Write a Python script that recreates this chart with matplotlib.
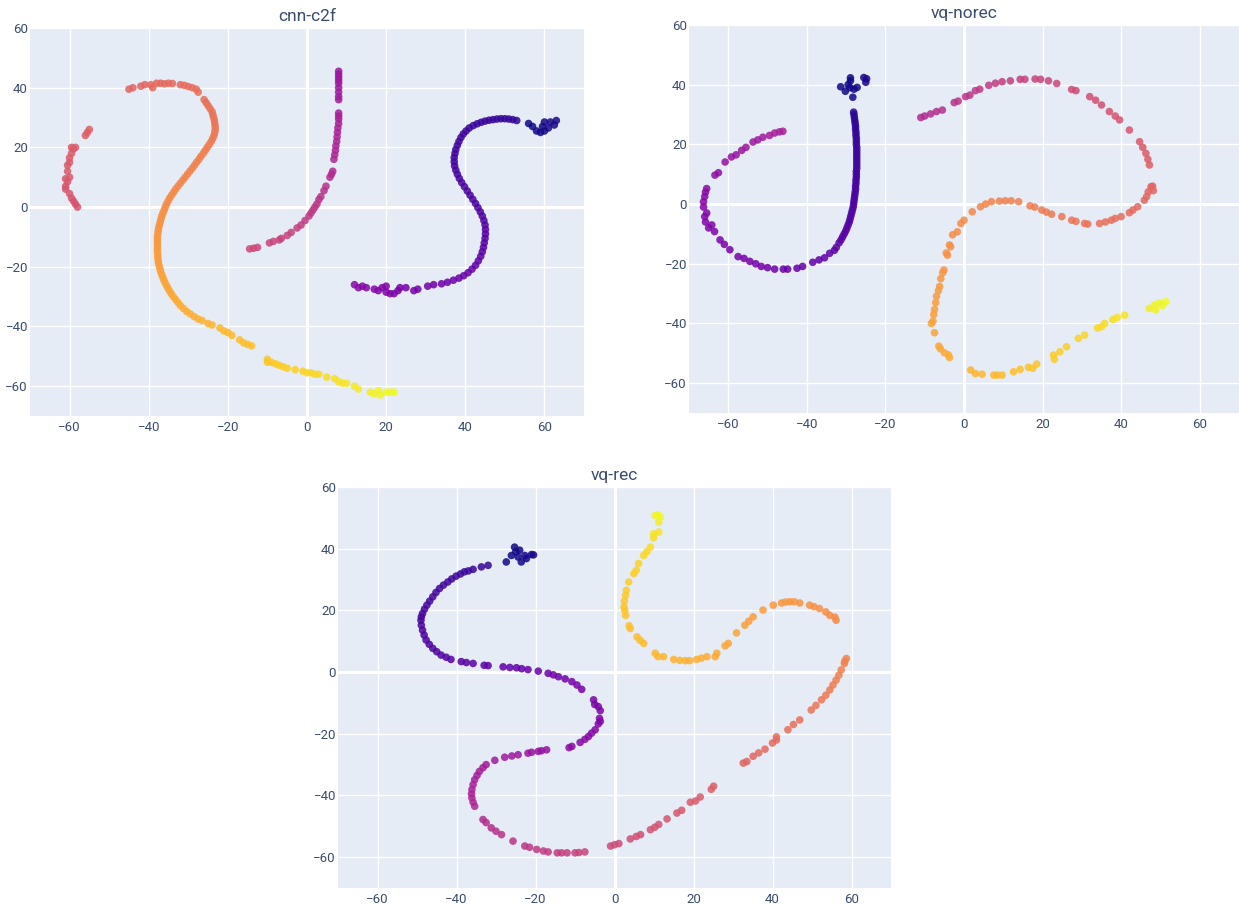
import matplotlib
matplotlib.use("Agg")
import matplotlib.pyplot as plt
import numpy as np

plt.rcParams['font.family'] = ['Roboto', 'DejaVu Sans']

# ---------------- cnn-c2f ----------------
cnn_x = [
    56, 57, 58, 59, 59.5, 60, 61, 61.5, 62.5, 63, 60,
    53, 52, 51, 50, 49, 48, 47, 46, 45, 44,
    43, 42, 41, 40.2, 39.5, 38.9, 38.4, 38, 37.6, 37.4,
    37.2, 37.2, 37.3, 37.6, 38, 38.5, 39.1, 39.8, 40.5, 41.2,
    41.9, 42.6, 43.2, 43.8, 44.3, 44.7, 45, 45.1, 45.1, 45,
    44.8, 44.6, 44.3, 43.9, 43.3, 42.6, 41.7, 40.7, 39.6, 38.4,
    37, 35.5, 34, 32, 30.5, 28, 27, 25, 23.5, 23,
    22, 21, 20, 20, 19, 18, 17, 15, 14, 13, 12,
    8, 8, 8, 8, 8, 8, 8, 8, 8, 8,
    8, 8, 8, 7.8, 7.7, 7.6, 7.5, 7.3, 7.2, 7,
    6.8, 6.5, 6.2, 5.8, 4.8, 4.3, 3.5, 3, 2.5, 2,
    1.5, 1, 0.5, -0.5, -1.5, -2.5, -4, -5, -6.5, -7,
    -8.5, -9.5, -12.5, -13.5, -14.5,
    -58, -58.5, -59, -59.5, -60, -61, -61, -60.5, -61, -60,
    -60.5, -60.5, -60, -60, -59.5, -59, -59.5, -58.5, -56, -55.5, -55,
    -45, -44, -42, -41, -39.5, -39, -38, -37, -36, -35,
    -34, -32, -31, -30, -29, -28, -27.5, -26, -25.5, -25,
    -24.5, -24, -23.8, -23.6, -23.4, -23.3, -23.2, -23.2, -23.3, -23.5,
    -23.8, -24.2, -24.7, -25.2, -25.7, -26.2, -26.8, -27.3, -27.9, -28.4,
    -29, -29.6, -30.2, -30.8, -31.4, -32, -32.6, -33.2, -33.7, -34.2,
    -34.7, -35.1, -35.5, -35.8, -36.1, -36.4, -36.7, -36.9, -37.1, -37.3,
    -37.5, -37.6, -37.7, -37.8, -37.8, -37.8, -37.8, -37.8, -37.8, -37.7,
    -37.7, -37.6, -37.5, -37.3, -37.1, -36.9, -36.6, -36.3, -36, -35.6,
    -35.2, -34.8, -34.3, -33.8, -33.2, -32.6, -32, -31.2, -30.4, -29.5,
    -28.5, -27.5, -26.5, -25, -24, -22, -21, -20, -19, -17,
    -16, -15, -14,
    -10, -10, -9, -8, -7, -6, -5, -3, -1, 0,
    1, 2, 3, 5, 7, 8, 9, 10, 12, 13,
    16, 17, 18, 18.5, 20, 21, 22,
]
cnn_y = [
    28, 27, 25.5, 25, 27, 28.5, 26.5, 28.5, 27.5, 29, 25.5,
    29, 29.3, 29.5, 29.6, 29.6, 29.5, 29.3, 29.1, 28.8, 28.4,
    27.9, 27.3, 26.5, 25.5, 24.5, 23.3, 22, 20.7, 19.3, 18,
    16.6, 15.2, 13.8, 12.4, 11, 9.6, 8.2, 6.8, 5.4, 4,
    2.6, 1.2, -0.2, -1.6, -3, -4.5, -6, -7.5, -9, -10.5,
    -12, -13.5, -15, -16.5, -18, -19.5, -20.8, -22, -23, -23.8,
    -24.5, -25.2, -25.7, -26, -26.5, -27.5, -28, -27, -27, -28,
    -29, -29, -28.5, -26.5, -27, -28, -27.5, -27, -26.5, -27, -26,
    45.5, 44.5, 43.5, 42.5, 41.5, 40, 38.5, 37, 36, 31.5,
    30.5, 29.5, 28, 26.5, 25, 23.5, 22, 20.5, 19, 17.5,
    16, 12, 11, 10, 7, 5.5, 3.5, 2.5, 1, 0,
    -1, -2, -3, -4.5, -6, -7, -8.5, -9.5, -10.5, -11,
    -11.5, -12, -13.5, -13.8, -14,
    0, 1, 2, 3, 4.5, 6, 7, 8.5, 9.5, 10,
    12, 14, 15, 16.5, 18, 19.5, 20, 20, 24, 25, 26,
    39.5, 40, 40.5, 41, 41, 40, 41.5, 41.5, 41.3, 41.5,
    41.4, 41, 40.8, 40.4, 40, 39.5, 38.5, 36, 35, 34,
    33, 32, 31, 30, 29, 28, 27, 26, 25, 24,
    23, 22, 21, 20, 19, 18, 17, 16, 15, 14,
    13, 12, 11, 10, 9, 8, 7, 6, 5, 4,
    3, 2, 1, 0, -1, -2, -3, -4, -5, -6,
    -7, -8, -9, -10, -11, -12, -13, -14, -15, -16,
    -17, -18, -19, -20, -21, -22, -23, -24, -25, -26,
    -27, -28, -29, -30, -31, -32, -33, -34, -35, -35.8,
    -36.7, -37.5, -38, -39, -39.5, -40.5, -41.5, -42, -43, -44.5,
    -45.5, -46, -46.5,
    -51, -52, -52, -52.5, -53, -53.5, -54, -54.5, -55, -55.5,
    -55.5, -56, -56, -57, -57.5, -58.5, -59, -59, -60, -61,
    -62, -62.5, -61.5, -63, -62, -62, -62,
]
cnn_c = [
    0.00, 0.00, 0.01, 0.01, 0.01, 0.01, 0.02, 0.02, 0.02, 0.02, 0.01,
    0.06, 0.06, 0.065, 0.065, 0.07, 0.07, 0.07, 0.075, 0.075, 0.08,
    0.08, 0.08, 0.085, 0.085, 0.09, 0.09, 0.09, 0.095, 0.095, 0.10,
    0.10, 0.10, 0.105, 0.105, 0.11, 0.11, 0.115, 0.115, 0.12, 0.12,
    0.125, 0.125, 0.13, 0.13, 0.135, 0.14, 0.14, 0.145, 0.15, 0.15,
    0.155, 0.16, 0.16, 0.165, 0.17, 0.175, 0.18, 0.185, 0.19, 0.195,
    0.20, 0.205, 0.21, 0.215, 0.22, 0.225, 0.23, 0.235, 0.24, 0.24,
    0.245, 0.25, 0.25, 0.255, 0.26, 0.26, 0.265, 0.27, 0.27, 0.275, 0.28,
    0.33, 0.33, 0.335, 0.335, 0.34, 0.34, 0.345, 0.345, 0.35, 0.36,
    0.36, 0.365, 0.365, 0.37, 0.37, 0.375, 0.38, 0.38, 0.385, 0.39,
    0.39, 0.40, 0.405, 0.41, 0.42, 0.425, 0.43, 0.435, 0.44, 0.445,
    0.45, 0.45, 0.455, 0.46, 0.465, 0.47, 0.475, 0.48, 0.485, 0.485,
    0.49, 0.49, 0.50, 0.50, 0.505,
    0.54, 0.54, 0.54, 0.545, 0.545, 0.55, 0.55, 0.55, 0.555, 0.555,
    0.56, 0.56, 0.565, 0.565, 0.57, 0.57, 0.57, 0.575, 0.58, 0.58, 0.585,
    0.60, 0.60, 0.605, 0.605, 0.61, 0.61, 0.61, 0.615, 0.615, 0.62,
    0.62, 0.62, 0.625, 0.625, 0.63, 0.63, 0.635, 0.64, 0.64, 0.645,
    0.645, 0.65, 0.65, 0.655, 0.655, 0.66, 0.66, 0.665, 0.665, 0.67,
    0.67, 0.675, 0.675, 0.68, 0.68, 0.685, 0.685, 0.69, 0.69, 0.695,
    0.695, 0.70, 0.70, 0.705, 0.705, 0.71, 0.71, 0.715, 0.715, 0.72,
    0.72, 0.725, 0.725, 0.73, 0.73, 0.735, 0.735, 0.74, 0.74, 0.745,
    0.745, 0.75, 0.75, 0.755, 0.755, 0.76, 0.76, 0.765, 0.765, 0.77,
    0.77, 0.775, 0.775, 0.78, 0.78, 0.785, 0.785, 0.79, 0.79, 0.795,
    0.795, 0.80, 0.80, 0.805, 0.805, 0.81, 0.81, 0.815, 0.815, 0.82,
    0.82, 0.825, 0.83, 0.83, 0.835, 0.84, 0.845, 0.845, 0.85, 0.855,
    0.86, 0.86, 0.865,
    0.88, 0.88, 0.885, 0.89, 0.89, 0.895, 0.90, 0.905, 0.91, 0.915,
    0.92, 0.925, 0.925, 0.93, 0.94, 0.945, 0.95, 0.955, 0.96, 0.965,
    0.975, 0.98, 0.985, 0.99, 0.995, 1.0, 1.0,
]

# ---------------- vq-norec ----------------
norec_x = [
    -31.4, -30.2, -29.5, -28.9, -28.9, -28.3, -28, -27.2, -29, -25.5, -25, -24.8,
    -28.1, -28, -27.9, -27.8, -27.7, -27.6, -27.6, -27.5, -27.5, -27.4,
    -27.4, -27.4, -27.3, -27.3, -27.3, -27.3, -27.3, -27.3, -27.3, -27.3,
    -27.4, -27.4, -27.4, -27.5, -27.5, -27.6, -27.6, -27.7, -27.8, -27.9,
    -28, -28.1, -28.2, -28.4, -28.6, -28.8, -29, -29.2, -29.5, -29.8,
    -30.1, -30.5, -30.9, -31.3, -31.8, -32.5, -33, -34.2, -35.5, -36.9,
    -38.5, -41.1, -42.5, -44.9, -46, -48.2, -50, -51.6, -53, -54.5,
    -56, -57.5, -59.6, -61, -62.1, -63.5, -64.2, -65, -65.8, -66,
    -65.5, -66.3, -66.3, -66, -65.8, -65.5, -63.4, -62.5, -60.8, -59.2,
    -58, -56.6, -55.5, -53.7, -52.5, -51.2, -49.5, -48.2, -47, -46.1,
    -11, -10, -8.5, -7, -5.5, -2.5, -1.5, 0.4, 1.5, 2.9,
    4, 6.3, 8, 9.7, 11.8, 14.3, 15.5, 18.1, 19.5, 21.5,
    23.6, 27.4, 28.5, 32, 33.5, 35, 37, 38.5, 39.6, 42.1,
    44.7, 45.5, 46.3, 46.8, 47.2,
    48, 47.6, 48.2, 46.9, 46.5, 45.9, 44.2, 43, 42.1, 40,
    38.5, 37.5, 36, 34.5, 31.5, 30.7, 28.5, 27.4, 24.9, 22.3,
    21, 19.8, 18, 16.8, 13.9, 12, 10.5, 9, 7, 5.5,
    4.2, 2.1, 0, -0.8, -1.7, -2.9, -3.4, -3.7, -4.5, -4.2,
    -5.1, -5.4, -5.9, -6.2, -6.5, -7, -7.2, -7.5, -7.7, -7.9,
    -8.3, -7.5, -6.4, -6, -5, -4, -3.7,
    1.7, 2.9, 4.6, 7.6, 8.5, 9.7, 12.6, 14.3, 16.4, 17.5,
    18.5, 22.8, 23, 24.4, 26.1, 29.1, 30.7, 34, 35, 35.8,
    37.9, 39, 40.9, 47.2, 48.4, 48.8, 49.7, 50.5, 51.4,
]
norec_y = [
    39.3, 37.8, 40, 41.3, 42.3, 35.8, 38.5, 39.1, 39, 42.4, 40.8, 42,
    30.8, 30, 29, 28, 27, 26, 25, 24, 23, 22,
    21, 20, 19, 18, 17, 16, 15, 14, 13, 12,
    11, 10, 9, 8, 7, 6, 5, 4, 3, 2,
    1, 0, -1, -2, -3, -4, -5, -6, -7, -8,
    -9, -10, -11, -12, -13, -14.5, -15.5, -16.5, -18, -18.7,
    -19.5, -20.9, -21.5, -21.8, -21.8, -21.8, -21.3, -20.9, -20, -19.2,
    -18.2, -17.6, -15.3, -13.5, -12, -9.2, -7, -8, -6, -4.2,
    -3, -1, 0.8, 2.5, 4, 5.2, 9.7, 10.5, 14.1, 15.8,
    16.5, 18, 19, 20.8, 21.5, 22.4, 23, 23.8, 24.2, 24.4,
    29, 29.5, 30.2, 31, 31.5, 34, 34.5, 36, 36.5, 38,
    38.5, 39.8, 40.5, 41, 41.3, 41.8, 41.8, 41.9, 41.8, 41.3,
    40.4, 38.4, 38, 36, 34.8, 33.2, 31, 29.5, 28.2, 24.8,
    20.9, 19, 17, 15, 13.1,
    6, 5.8, 4.5, 4.1, 2.5, 1.3, -0.9, -2, -2.9, -4.2,
    -4.8, -5.4, -6, -6.5, -6.7, -6.5, -5.8, -5.4, -4.2, -3.4,
    -2.7, -2, -1, -0.6, 0.8, 1.1, 1.1, 1, 0.8, 0,
    -0.9, -2.6, -5.4, -6.5, -9.3, -10.3, -14.3, -13.7, -16.4, -17.1,
    -22.1, -23, -25, -27.6, -29, -30.9, -33, -35.3, -37, -39.2,
    -40, -43.1, -47.6, -48.5, -49.8, -50.5, -51.4,
    -55.6, -56.8, -57, -57.3, -57.3, -57.3, -56.2, -55.4, -54.7, -55,
    -53.6, -50.6, -52, -49.5, -47.8, -45, -43.9, -41.5, -41.1, -40,
    -38.7, -38, -37.2, -35, -33.9, -35.5, -33.1, -34, -32.7,
]
norec_c = [
    0.0, 0.0, 0.0, 0.005, 0.005, 0.01, 0.01, 0.01, 0.01, 0.02, 0.02, 0.02,
    0.05, 0.05, 0.055, 0.055, 0.06, 0.06, 0.065, 0.065, 0.07, 0.07,
    0.075, 0.075, 0.08, 0.08, 0.085, 0.085, 0.09, 0.09, 0.095, 0.095,
    0.10, 0.10, 0.105, 0.105, 0.11, 0.11, 0.115, 0.115, 0.12, 0.12,
    0.125, 0.125, 0.13, 0.13, 0.135, 0.135, 0.14, 0.14, 0.145, 0.145,
    0.15, 0.15, 0.155, 0.155, 0.16, 0.165, 0.165, 0.17, 0.175, 0.18,
    0.185, 0.19, 0.195, 0.20, 0.20, 0.205, 0.21, 0.215, 0.22, 0.22,
    0.225, 0.23, 0.235, 0.24, 0.245, 0.25, 0.255, 0.255, 0.26, 0.265,
    0.265, 0.27, 0.275, 0.28, 0.28, 0.285, 0.30, 0.30, 0.31, 0.315,
    0.32, 0.325, 0.33, 0.335, 0.34, 0.345, 0.35, 0.355, 0.36, 0.365,
    0.40, 0.40, 0.405, 0.41, 0.415, 0.425, 0.43, 0.435, 0.44, 0.445,
    0.45, 0.455, 0.46, 0.465, 0.47, 0.475, 0.48, 0.485, 0.49, 0.495,
    0.50, 0.51, 0.515, 0.52, 0.525, 0.53, 0.535, 0.54, 0.545, 0.55,
    0.56, 0.56, 0.565, 0.57, 0.575,
    0.60, 0.60, 0.605, 0.605, 0.61, 0.61, 0.615, 0.62, 0.62, 0.625,
    0.63, 0.63, 0.635, 0.64, 0.645, 0.65, 0.655, 0.655, 0.66, 0.665,
    0.67, 0.67, 0.675, 0.68, 0.685, 0.69, 0.69, 0.695, 0.70, 0.705,
    0.71, 0.715, 0.72, 0.72, 0.725, 0.73, 0.735, 0.735, 0.74, 0.74,
    0.75, 0.75, 0.755, 0.76, 0.765, 0.765, 0.77, 0.775, 0.78, 0.785,
    0.785, 0.79, 0.80, 0.80, 0.805, 0.81, 0.81,
    0.83, 0.835, 0.84, 0.845, 0.85, 0.855, 0.86, 0.865, 0.87, 0.875,
    0.875, 0.89, 0.89, 0.895, 0.90, 0.91, 0.915, 0.925, 0.93, 0.93,
    0.94, 0.945, 0.95, 0.975, 0.98, 0.985, 0.99, 0.995, 1.0,
]

# ---------------- vq-rec ----------------
rec_x = [
    -25.3, -24, -26.1, -27.4, -23.6, -22.3, -21, -24.4, -22.7, -25, -20.5,
    -32, -33.7, -35.8, -37, -38, -39, -40.1, -41.2, -42.2, -43.3,
    -44.3, -45.2, -46, -46.8, -47.5, -48.1, -48.6, -48.9, -49, -48.9,
    -48.6, -48.2, -47.7, -46.9, -46, -45, -43.9, -42.6, -41.4, -38.8,
    -37.5, -35.8, -33, -32, -28.2, -26.5, -24.8, -23.5, -21.9, -19.3,
    -16.8, -15.5, -14.2, -12.5, -10.8, -9.5, -8.3, -5.3, -5, -4.1,
    -3.6, -3.8, -3.6, -4.1, -4.9, -5.8, -6.6, -7.5, -8.7, -10.8, -11.5,
    -17.2, -18.5, -19.3, -21, -21.9, -24.4, -26, -27.8, -30.3, -32.5,
    -33.3, -34.2, -34.8, -35.4, -35.8, -36.1, -36.2, -36.1, -35.8, -35.4,
    -33.3, -32.5, -31.2, -30, -28.6, -25.7, -22.7, -21.5, -19.7, -18,
    -16.8, -14.5, -13.4, -12, -10, -9, -7.5,
    -1, 0, 1.1, 4, 5.5, 6.6, 9.1, 10.2, 11.2, 13.3,
    15.8, 17, 19.2, 20.5, 21.7, 25.1, 24.5, 32.6, 33.5, 35.1,
    36.5, 38.1, 40, 41, 41, 43.9, 45.3, 46.9, 49.8, 51,
    52.4, 53.5, 54.5, 55.3, 56.1, 56.8, 57.4, 58.2, 58.7, 58.3,
    56.1, 55.8, 54.5, 53.5, 51.9, 50.5, 49.4, 46.9, 45.5, 44.4,
    43.3, 42.3, 40.2, 37.6, 35.1, 34, 33, 30.9, 28.8, 28,
    25.9, 25.5, 23.4, 22, 20.8, 19, 17.9, 16.5, 15, 12.4,
    11, 10.3, 7.4, 6.5, 5.7, 4, 3.7, 2.8, 2.6, 2.4,
    2.5, 2.8, 3, 3.6, 4.9, 5.5, 6.1, 7.4, 8.2, 9.1,
    9.9, 9.9, 11.2, 11.2, 10.3, 11.6, 11,
]
rec_y = [
    40.5, 39.5, 37.8, 35.7, 35.7, 36.8, 38.1, 37.3, 37.8, 39, 38,
    34.6, 34.1, 33.3, 32.8, 32.5, 31.8, 31.1, 30.2, 29.2, 28.2,
    27.1, 25.8, 24.4, 23, 21.7, 20.4, 19, 17.9, 16.8, 15.2,
    13.6, 12, 10.4, 9, 7.7, 6.6, 5.5, 4.8, 4.1, 3.4,
    3.1, 2.8, 2.2, 2.1, 1.7, 1.5, 1.4, 1.1, 0.8, 0.3,
    -0.4, -0.9, -1.5, -2.2, -3.1, -4.2, -5.6, -9, -10.5, -11.2,
    -12.5, -15, -16, -16.8, -18.7, -19.8, -20.9, -21.8, -22.8, -24.1, -24.5,
    -25.2, -25.5, -25.7, -26, -26.3, -26.8, -27.2, -27.6, -28.6, -30,
    -31, -32.2, -33.5, -34.9, -36.5, -38.1, -39.5, -40.8, -42.2, -43.5,
    -47.8, -48.8, -50.5, -51.6, -52.7, -54.8, -56.4, -56.8, -57.5, -58,
    -58.3, -58.6, -58.6, -58.6, -58.6, -58.5, -58.3,
    -56.4, -56, -55.6, -54.1, -53.3, -52.7, -51.1, -50.3, -49.4, -47.6,
    -45.7, -44.8, -42.2, -41.8, -40.5, -37, -38, -29.5, -29, -27.3,
    -26.2, -25, -23, -22, -21, -18.7, -17, -15.5, -12.3, -10.8,
    -9, -7.5, -5.8, -4.2, -2.6, -1, 0.7, 2.8, 4.4, 3.5,
    16.8, 17.8, 18.4, 19.5, 20.6, 21.2, 21.7, 22.4, 22.8, 22.8,
    22.7, 22.4, 21.7, 20.1, 17.9, 16.5, 15.2, 12.7, 9.3, 8.5,
    6.1, 5, 5, 4.5, 4.1, 3.7, 3.7, 3.8, 4.1, 5,
    5, 6.1, 9.3, 10.3, 11.4, 14.1, 15, 18.4, 20, 21.1,
    23, 24.9, 26.5, 29.2, 31.9, 33, 35.2, 37.8, 39, 40.5,
    43.5, 44.8, 45.4, 48.6, 50.8, 50.2, 51,
]
rec_c = [
    0.0, 0.0, 0.005, 0.005, 0.01, 0.01, 0.01, 0.01, 0.015, 0.015, 0.02,
    0.07, 0.075, 0.08, 0.08, 0.085, 0.085, 0.09, 0.09, 0.095, 0.095,
    0.10, 0.10, 0.105, 0.105, 0.11, 0.11, 0.115, 0.115, 0.12, 0.12,
    0.125, 0.125, 0.13, 0.13, 0.135, 0.135, 0.14, 0.14, 0.145, 0.15,
    0.155, 0.16, 0.165, 0.165, 0.175, 0.18, 0.185, 0.19, 0.195, 0.20,
    0.205, 0.21, 0.215, 0.22, 0.225, 0.23, 0.23, 0.24, 0.245, 0.245,
    0.25, 0.255, 0.255, 0.26, 0.265, 0.27, 0.27, 0.275, 0.28, 0.285, 0.29,
    0.31, 0.315, 0.315, 0.32, 0.325, 0.33, 0.335, 0.34, 0.345, 0.35,
    0.355, 0.36, 0.36, 0.365, 0.37, 0.375, 0.38, 0.385, 0.39, 0.39,
    0.40, 0.405, 0.41, 0.415, 0.42, 0.43, 0.44, 0.445, 0.45, 0.455,
    0.46, 0.465, 0.47, 0.475, 0.48, 0.485, 0.49,
    0.51, 0.51, 0.515, 0.52, 0.525, 0.53, 0.535, 0.54, 0.54, 0.545,
    0.55, 0.555, 0.56, 0.565, 0.565, 0.575, 0.575, 0.60, 0.60, 0.605,
    0.61, 0.615, 0.62, 0.62, 0.625, 0.63, 0.635, 0.64, 0.65, 0.655,
    0.66, 0.665, 0.67, 0.675, 0.68, 0.685, 0.69, 0.695, 0.70, 0.70,
    0.72, 0.72, 0.725, 0.73, 0.735, 0.735, 0.74, 0.745, 0.75, 0.75,
    0.755, 0.755, 0.76, 0.77, 0.775, 0.78, 0.78, 0.79, 0.795, 0.80,
    0.805, 0.805, 0.81, 0.815, 0.82, 0.82, 0.825, 0.83, 0.83, 0.835,
    0.84, 0.84, 0.85, 0.855, 0.855, 0.86, 0.865, 0.87, 0.875, 0.875,
    0.88, 0.885, 0.89, 0.895, 0.90, 0.905, 0.91, 0.92, 0.925, 0.93,
    0.94, 0.945, 0.95, 0.97, 0.985, 0.99, 1.0,
]

titles = ["cnn-c2f", "vq-norec", "vq-rec"]
ticks = [-60, -40, -20, 0, 20, 40, 60]

W, H = 1239, 906
# panel boxes in pixels: left, top, right, bottom
boxes = [(30, 28, 584, 416), (689, 25, 1239, 413), (338, 487, 891, 888)]
panels = [(cnn_x, cnn_y, cnn_c), (norec_x, norec_y, norec_c), (rec_x, rec_y, rec_c)]

BG = "#E5ECF6"
TXT = "#3a4d6d"

fig = plt.figure(figsize=(W / 100, H / 100), dpi=100)
fig.patch.set_facecolor("white")

for (l, t, r, b), (px, py, pc), title in zip(boxes, panels, titles):
    assert len(px) == len(py) == len(pc)
    ax = fig.add_axes([l / W, 1 - b / H, (r - l) / W, (b - t) / H])
    ax.set_facecolor(BG)
    ax.set_xlim(-70, 70)
    ax.set_ylim(-70, 60)
    ax.set_xticks(ticks)
    ax.set_yticks(ticks)
    ax.grid(True, color="white", linewidth=1.0, zorder=0)
    ax.set_axisbelow(True)
    ax.axhline(0, color="white", linewidth=2.2, zorder=1)
    ax.axvline(0, color="white", linewidth=2.2, zorder=1)
    for s in ax.spines.values():
        s.set_visible(False)
    ax.tick_params(length=0, labelsize=9.5, labelcolor=TXT)
    ax.tick_params(axis="y", pad=1.5)
    ax.tick_params(axis="x", pad=3.5)
    ax.scatter(np.array(px), np.array(py), c=np.array(pc), cmap="plasma",
               vmin=0, vmax=1, s=30, alpha=0.85, linewidths=0, zorder=3)
    ax.set_title(title, fontsize=12.5, color=TXT, pad=5)

fig.savefig("out.png", dpi=100, facecolor="white")
